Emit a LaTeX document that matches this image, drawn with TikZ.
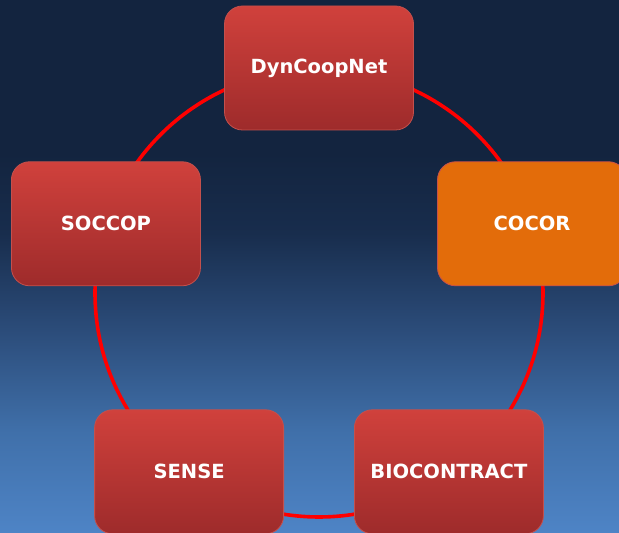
\documentclass[tikz,border=0pt]{standalone}
\usepackage{fontspec}
\setmainfont{DejaVu Sans}
\definecolor{navytop}{HTML}{13243F}
\definecolor{navymid}{HTML}{182D4D}
\definecolor{navysea}{HTML}{2C4D7B}
\definecolor{navyshore}{HTML}{4070AA}
\definecolor{navylow}{HTML}{4E84C6}
\definecolor{boxtop}{HTML}{D0413C}
\definecolor{boxlow}{HTML}{9E2B2B}
\definecolor{boxline}{HTML}{C4504C}
\definecolor{cocororange}{HTML}{E36C0A}
\pgfdeclareverticalshading{nightsky}{100bp}{%
    color(0bp)=(navylow);
    color(25bp)=(navylow);
    color(34.4bp)=(navyshore);
    color(43.8bp)=(navysea);
    color(53.1bp)=(navymid);
    color(60.6bp)=(navytop);
    color(100bp)=(navytop)}

\begin{document}
\begin{tikzpicture}[x=1pt,y=1pt,
    project/.style={rectangle, rounded corners=18pt, minimum width=189pt,
        minimum height=124pt, draw=boxline, line width=0.8pt,
        top color=boxtop, bottom color=boxlow, text=white,
        font=\fontsize{19.5}{22}\selectfont\bfseries},
    current/.style={project, fill=cocororange, top color=cocororange,
        bottom color=cocororange},
    ring/.style={draw=red, line width=3.6pt}]
    \useasboundingbox (0,0) rectangle (619,533);
    \clip (0,0) rectangle (619,533);
    \shade[shading=nightsky] (0,0) rectangle (619,533);
    \coordinate (hub) at (319,240);
    \draw[ring] (hub) circle (224);
    \node[project] (dyn) at ([shift={(90:225)}]hub) {DynCoopNet};
    \node[project] (soccop) at ([shift={(162:224)}]hub) {SOCCOP};
    \node[current] (cocor) at ([shift={(18:224)}]hub) {COCOR};
    \node[project] (sense) at ([shift={(234:221)}]hub) {SENSE};
    \node[project] (bio) at ([shift={(306:221)}]hub) {BIOCONTRACT};
\end{tikzpicture}
\end{document}
